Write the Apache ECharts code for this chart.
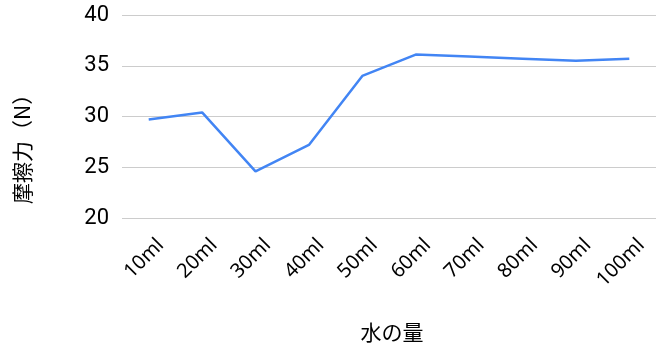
<!DOCTYPE html>
<html><head><meta charset="utf-8">
<script src="https://cdn.jsdelivr.net/npm/echarts@6/dist/echarts.min.js"></script>
<style>html,body{margin:0;padding:0;background:#fff}#c{width:656px;height:346px}</style>
</head><body><div id="c"></div>
<script>
const categories = ['10ml','20ml','30ml','40ml','50ml','60ml','70ml','80ml','90ml','100ml'];
const friction = [29.7, 30.4, 24.6, 27.2, 34.0, 36.1, 35.9, 35.7, 35.5, 35.7];
const yTicks = [20, 25, 30, 35, 40];
const xTitle = '水の量';
const yTitle = '摩擦力（N）';

const chart = echarts.init(document.getElementById('c'), null, {renderer:'canvas'});
chart.setOption({
  animation:false,
  backgroundColor:'#fff',
  grid:{left:122, top:15, width:540, height:203, containLabel:false},
  xAxis:{type:'category', data:categories, boundaryGap:true,
    axisLine:{show:false}, axisTick:{show:false},
    axisLabel:{rotate:45, margin:36, padding:[0,-17,0,0], color:'#000', fontSize:20, fontFamily:'Noto Sans', interval:0}},
  yAxis:{type:'value', min:yTicks[0], max:yTicks[yTicks.length-1], interval:5,
    axisLine:{show:false}, axisTick:{show:false},
    splitLine:{lineStyle:{color:'#cccccc', width:1}},
    axisLabel:{color:'#000', fontSize:22, fontFamily:'Roboto', margin:13}},
  graphic:[
    {type:'text', x:392, y:322, style:{text:xTitle, align:'center', font:'21px "Noto Sans CJK JP"', fill:'#000'}},
    {type:'text', rotation:Math.PI/2, x:11.5, y:204, style:{text:yTitle, font:'21px "Noto Sans CJK JP"', fill:'#000'}}
  ],
  series:[{type:'line', data:friction, showSymbol:false, symbol:'none',
    lineStyle:{color:'#4285F4', width:2.5}, itemStyle:{color:'#4285F4'}}]
});
</script></body></html>
